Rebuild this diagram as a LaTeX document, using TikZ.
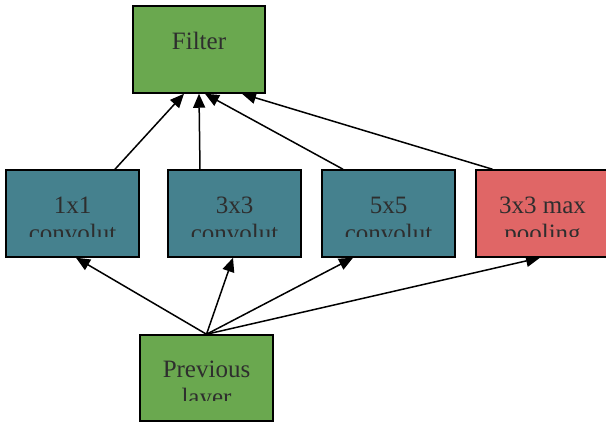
\documentclass[tikz,border=0pt]{standalone}
\usepackage{fontspec}
\setmainfont{Liberation Serif}
\usetikzlibrary{arrows.meta,backgrounds}
\definecolor{layergreen}{HTML}{6AA84F}
\definecolor{convteal}{HTML}{45818E}
\definecolor{poolred}{HTML}{E06666}
\definecolor{labelgray}{HTML}{2E2E2E}
\tikzset{
  lineshift/.store in=\lineshift, lineshift=0pt,
  twolines/.style={lineshift=-28pt},
  block/.style={draw=black, line width=1.5pt, minimum width=133pt, minimum height=87pt, inner sep=0pt,
    path picture={
      \clip ([yshift=20pt]path picture bounding box.south west) rectangle (path picture bounding box.north east);
      \node[anchor=base, align=center, text=labelgray, font=\fontsize{25}{28}\selectfont, yshift=\lineshift]
        at (path picture bounding box.center) {#1};}},
  link/.style={-{Triangle[length=14pt,width=12pt]}, line width=1.5pt}
}
\begin{document}
\begin{tikzpicture}[x=1pt,y=1pt]
      \useasboundingbox (0,0) rectangle (606,423);
      \node[block={Filter}, fill=layergreen, minimum width=132pt] (filter) at (199,373.5) {};
      \node[block={1x1\\convolut}, twolines, fill=convteal] (c1) at (72.5,209.5) {};
      \node[block={3x3\\convolut}, twolines, fill=convteal] (c3) at (234.5,209.5) {};
      \node[block={5x5\\convolut}, twolines, fill=convteal] (c5) at (388.5,209.5) {};
      \node[block={3x3 max\\pooling}, twolines, fill=poolred] (pool) at (542.5,209.5) {};
      \node[block={Previous\\layer}, twolines, fill=layergreen, minimum height=86pt] (prev) at (206.5,45) {};
      \begin{scope}[on background layer]
        \draw[link] ([xshift=42.5pt]c1.north) to ([xshift=-15pt]filter.south);
        \draw[link] ([xshift=-34.5pt]c3.north) to (filter.south);
        \draw[link] ([xshift=-45.5pt]c5.north) to ([xshift=6pt]filter.south);
        \draw[link] ([xshift=-50pt]pool.north) to ([xshift=43pt]filter.south);
        \draw[link] (prev.north) to ([xshift=3.5pt]c1.south);
        \draw[link] (prev.north) to ([xshift=-1.5pt]c3.south);
        \draw[link] (prev.north) to ([xshift=-35.5pt]c5.south);
        \draw[link] (prev.north) to ([xshift=-2.5pt]pool.south);
      \end{scope}
    \end{tikzpicture}
\end{document}
